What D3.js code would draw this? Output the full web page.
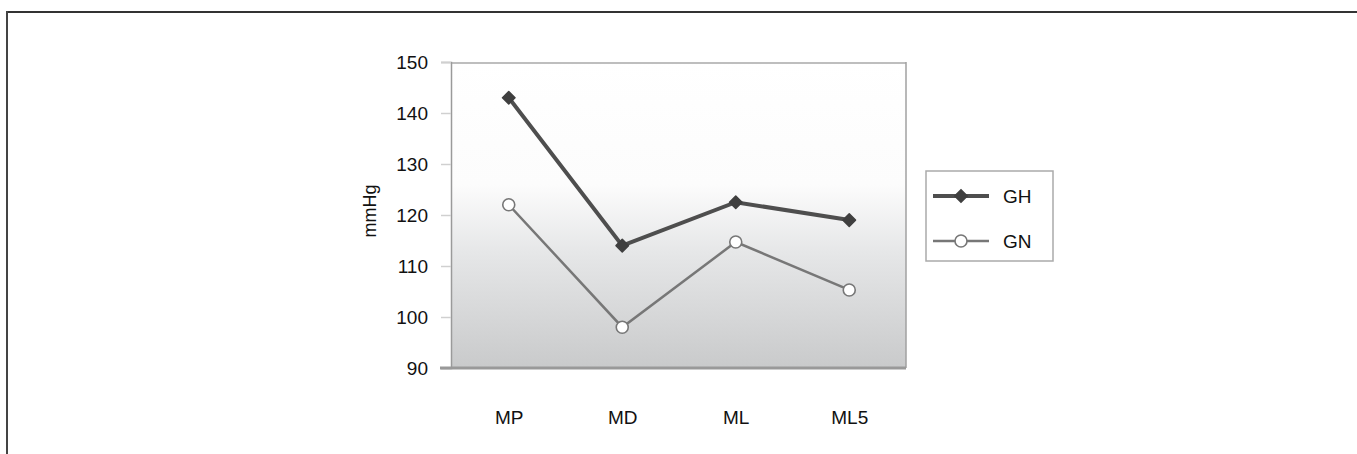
<!DOCTYPE html>
<html>
<head>
<meta charset="utf-8">
<script src="https://cdn.jsdelivr.net/npm/d3@7"></script>
<style>
  html, body { margin: 0; padding: 0; background: #fff; }
  svg { display: block; font-family: "Liberation Sans", Arial, sans-serif; }
</style>
</head>
<body>
<svg id="chart" width="1357" height="454"></svg>
<script>
const categories = ["MP", "MD", "ML", "ML5"];
const ghValues = [143, 114, 122.5, 119];
const gnValues = [122, 98, 114.7, 105.3];
const yTicks = [90, 100, 110, 120, 130, 140, 150];
const seriesNames = ["GH", "GN"];
const yLabel = "mmHg";

const svg = d3.select("#chart");
const plot = { left: 452, right: 906, top: 62, bottom: 368 };

// outer frame (top + left rules)
svg.append("line").attr("x1", 6).attr("x2", 1357).attr("y1", 12).attr("y2", 12)
  .attr("stroke", "#333").attr("stroke-width", 2);
svg.append("line").attr("x1", 7).attr("x2", 7).attr("y1", 11).attr("y2", 454)
  .attr("stroke", "#444").attr("stroke-width", 2);

const x = d3.scalePoint().domain(categories).range([plot.left, plot.right]).padding(0.5);
const y = d3.scaleLinear().domain([90, 150]).range([plot.bottom, plot.top]);

// gradient background
const defs = svg.append("defs");
const grad = defs.append("linearGradient").attr("id", "bg").attr("x1", 0).attr("x2", 0).attr("y1", 0).attr("y2", 1);
grad.append("stop").attr("offset", "0%").attr("stop-color", "#ffffff");
grad.append("stop").attr("offset", "40%").attr("stop-color", "#fcfcfc");
grad.append("stop").attr("offset", "62%").attr("stop-color", "#e6e7e8");
grad.append("stop").attr("offset", "100%").attr("stop-color", "#c9cacb");

svg.append("rect")
  .attr("x", plot.left).attr("y", plot.top)
  .attr("width", plot.right - plot.left).attr("height", plot.bottom - plot.top)
  .attr("fill", "url(#bg)");

// plot frame
svg.append("line").attr("x1", plot.left).attr("x2", plot.right).attr("y1", plot.top + 1).attr("y2", plot.top + 1)
  .attr("stroke", "#a8a8a8").attr("stroke-width", 1.5);
svg.append("line").attr("x1", plot.right).attr("x2", plot.right).attr("y1", plot.top).attr("y2", plot.bottom)
  .attr("stroke", "#a0a0a0").attr("stroke-width", 1.5);

// y axis
const yAxis = d3.axisLeft(y).tickValues(yTicks).tickSize(10).tickPadding(13);
const gy = svg.append("g").attr("transform", `translate(${plot.left - 1},0)`).call(yAxis);
gy.select(".domain").attr("stroke", "#9a9a9a").attr("stroke-width", 1.5);
gy.selectAll(".tick line").attr("stroke", "#d0d0d0").attr("stroke-width", 1.5);
gy.selectAll(".tick text").attr("font-size", 19).attr("fill", "#111")
  .attr("font-family", "Liberation Sans, Arial, sans-serif");

// floor line
svg.append("line").attr("x1", plot.left - 12).attr("x2", plot.right).attr("y1", plot.bottom).attr("y2", plot.bottom)
  .attr("stroke", "#999").attr("stroke-width", 3);

// x axis labels
const xAxis = d3.axisBottom(x).tickSize(0).tickPadding(0);
const gx = svg.append("g").attr("transform", `translate(0,${plot.bottom + 42})`).call(xAxis);
gx.select(".domain").remove();
gx.selectAll(".tick text").attr("font-size", 19).attr("fill", "#111")
  .attr("font-family", "Liberation Sans, Arial, sans-serif");

// y label
svg.append("text")
  .attr("transform", `translate(376,${(plot.top + plot.bottom) / 2 - 4}) rotate(-90)`)
  .attr("text-anchor", "middle").attr("font-size", 18).attr("fill", "#111")
  .text(yLabel);

const line = d3.line().x((d, i) => x(categories[i])).y(d => y(d));

// GN series
svg.append("path").datum(gnValues).attr("d", line)
  .attr("fill", "none").attr("stroke", "#777").attr("stroke-width", 2.5);
// GH series
svg.append("path").datum(ghValues).attr("d", line)
  .attr("fill", "none").attr("stroke", "#4e4e4e").attr("stroke-width", 4);

const diamond = d3.symbol().type(d3.symbolSquare).size(78);

svg.selectAll(".gh").data(ghValues).enter().append("path")
  .attr("d", diamond)
  .attr("transform", (d, i) => `translate(${x(categories[i])},${y(d)}) rotate(45)`)
  .attr("fill", "#3f3f3f").attr("stroke", "#3f3f3f").attr("stroke-width", 1.5).attr("stroke-linejoin", "round");

svg.selectAll(".gn").data(gnValues).enter().append("circle")
  .attr("cx", (d, i) => x(categories[i])).attr("cy", d => y(d)).attr("r", 6)
  .attr("fill", "#fff").attr("stroke", "#777").attr("stroke-width", 1.6);

// legend
const lg = svg.append("g");
lg.append("rect").attr("x", 926).attr("y", 171).attr("width", 127).attr("height", 90)
  .attr("fill", "#fff").attr("stroke", "#aaa").attr("stroke-width", 1.5);

const legendRows = [
  { name: seriesNames[0], y: 196, stroke: "#4e4e4e", w: 4, marker: "diamond" },
  { name: seriesNames[1], y: 241, stroke: "#777", w: 2.5, marker: "circle" }
];
legendRows.forEach(r => {
  lg.append("line").attr("x1", 933).attr("x2", 989).attr("y1", r.y).attr("y2", r.y)
    .attr("stroke", r.stroke).attr("stroke-width", r.w);
  if (r.marker === "diamond") {
    lg.append("path").attr("d", diamond).attr("transform", `translate(961,${r.y}) rotate(45)`)
      .attr("fill", "#3f3f3f").attr("stroke", "#3f3f3f").attr("stroke-width", 1.5);
  } else {
    lg.append("circle").attr("cx", 961).attr("cy", r.y).attr("r", 6)
      .attr("fill", "#fff").attr("stroke", "#777").attr("stroke-width", 1.6);
  }
  lg.append("text").attr("x", 1003).attr("y", r.y).attr("dy", "0.35em")
    .attr("font-size", 19).attr("fill", "#111").text(r.name);
});
</script>
</body>
</html>
